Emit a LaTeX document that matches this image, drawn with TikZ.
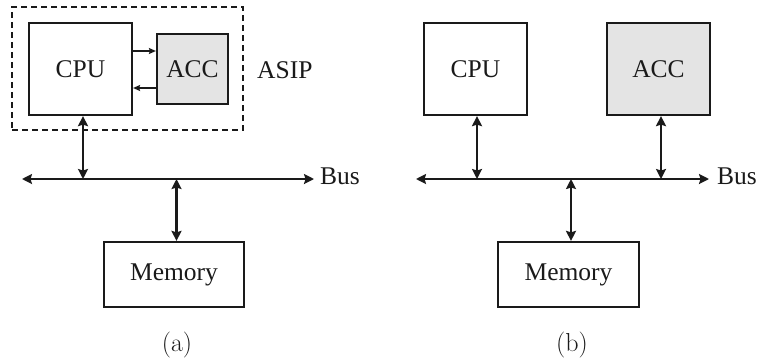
\documentclass[tikz,border=0pt]{standalone}
\usepackage{fontspec}
\setmainfont{Liberation Serif}
\newfontfamily\capfont{Latin Modern Roman}
\usetikzlibrary{arrows.meta}
\definecolor{ink}{HTML}{1A1A1A}
\definecolor{accfill}{HTML}{E4E4E4}
\begin{document}
\begin{tikzpicture}[x=1pt,y=-1pt,
  box/.style={draw=ink,line width=2.2pt,inner sep=0pt,text=ink,font=\fontsize{25.5}{28}\selectfont},
  lbl/.style={inner sep=0pt,text=ink,font=\fontsize{25.5}{28}\selectfont},
  sublabel/.style={inner sep=0pt,text=ink,font=\capfont\fontsize{26}{28}\selectfont},
  link/.style={draw=ink,line width=2.2pt,{Stealth[length=10pt,width=10pt,inset=1.5pt]}-{Stealth[length=10pt,width=10pt,inset=1.5pt]}},
  smallarrow/.style={draw=ink,line width=1.3pt,-{Stealth[length=7pt,width=6pt,inset=1pt]}}]
\useasboundingbox (0,0) rectangle (760,362);

% ---------- (a) processor with accelerator inside the ASIP ----------
\node[draw=ink,line width=2.2pt,dash pattern=on 6pt off 4pt,minimum width=231pt,minimum height=123pt,inner sep=0pt] (asip) at (127.5,68.5) {};
\node[box,minimum width=103pt,minimum height=92pt] (cpuA) at (80.5,69) {CPU};
\node[box,fill=accfill,minimum width=71pt,minimum height=70pt] (accA) at (192.5,69) {ACC};
\node[lbl,anchor=west] (asipLbl) at (257,70) {ASIP};

\draw[smallarrow] ([yshift=18pt]cpuA.east) -- ([yshift=18pt]cpuA.east -| accA.west);
\draw[smallarrow] ([yshift=-19pt]cpuA.east -| accA.west) -- ([yshift=-19pt]cpuA.east);

\coordinate (busAL) at (22,179);
\coordinate (busAR) at (314,179);
\draw[link] (busAL) -- (busAR);
\node[lbl,anchor=west] (busAlbl) at (320,176) {Bus};

\node[box,minimum width=140pt,minimum height=65pt] (memA) at (174,274.5) {Memory};

\draw[link] ([xshift=2.5pt]cpuA.south) -- ([xshift=2.5pt]cpuA.south |- busAL);
\draw[link] ([xshift=2.5pt]memA.north |- busAL) -- ([xshift=2.5pt]memA.north);

\node[sublabel] (capA) at (177,345) {(a)};

% ---------- (b) processor and accelerator on the shared bus ----------
\node[box,minimum width=103pt,minimum height=92pt] (cpuB) at (475.5,69) {CPU};
\node[box,fill=accfill,minimum width=103pt,minimum height=92pt] (accB) at (658.5,69) {ACC};

\coordinate (busBL) at (416,179);
\coordinate (busBR) at (709,179);
\draw[link] (busBL) -- (busBR);
\node[lbl,anchor=west] (busBlbl) at (717,176) {Bus};

\node[box,minimum width=141pt,minimum height=65pt] (memB) at (568.5,274.5) {Memory};

\draw[link] ([xshift=1.5pt]cpuB.south) -- ([xshift=1.5pt]cpuB.south |- busBL);
\draw[link] ([xshift=2.5pt]accB.south) -- ([xshift=2.5pt]accB.south |- busBL);
\draw[link] ([xshift=2.5pt]memB.north |- busBL) -- ([xshift=2.5pt]memB.north);

\node[sublabel] (capB) at (572,345) {(b)};
\end{tikzpicture}
\end{document}
